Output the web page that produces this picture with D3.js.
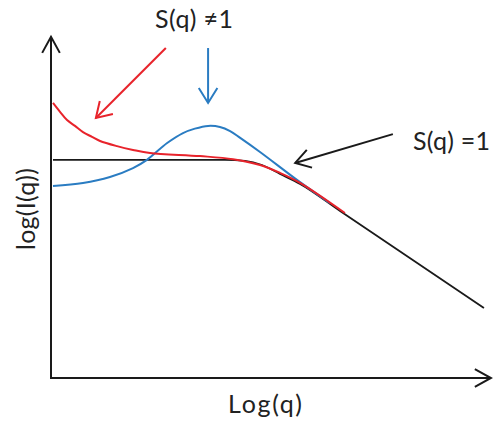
<!DOCTYPE html>
<html><head><meta charset="utf-8">
<script src="https://cdn.jsdelivr.net/npm/d3@7"></script>
<style>html,body{margin:0;padding:0;background:#fff;}</style>
</head><body>
<script>
// Data (abstract units: x and y in 0..100 of the axes)
const blackX = [0.45, 22.5, 39.5, 44.1, 47.95, 52.05, 56.6, 65.7, 98.4];
const blackY = [63.6, 63.6, 63.6, 63.3, 62.1, 59.5, 56.6, 48.7, 20.4];
const redX = [0.45, 2.05, 3.64, 5.45, 7.27, 9.32, 11.14, 15.0, 18.64, 22.5, 33.86, 41.36, 47.5, 52.05, 56.6, 66.8];
const redY = [80.2, 77.6, 75.2, 73.5, 71.7, 70.3, 69.1, 67.6, 66.5, 65.6, 64.7, 63.8, 62.1, 59.8, 56.9, 48.1];
const blueX = [0.45, 7.27, 13.4, 18.64, 21.8, 26.4, 30.0, 32.7, 35.7, 38.4, 40.7, 43.0, 47.5, 56.6, 63.4];
const blueY = [56.0, 56.85, 58.6, 61.2, 63.6, 68.5, 71.4, 72.7, 73.5, 73.2, 72.0, 70.0, 65.9, 57.1, 51.0];
// annotation arrows: [tailX, tailY, tipX, tipY]
const arrowRed = [26.1, 96.2, 10.2, 75.8];
const arrowBlue = [35.7, 96.2, 35.7, 80.2];
const arrowBlack = [77.7, 71.1, 55.5, 62.7];
const labels = ["S(q) \u22601", "S(q) =1", "Log(q)", "log(I(q))"];

const W = 493, H = 423;
const svg = d3.select("body").append("svg").attr("width", W).attr("height", H);
const x = d3.scaleLinear().domain([0, 100]).range([51, 491]);
const y = d3.scaleLinear().domain([0, 100]).range([378, 35]);

const RED = "#e8232b", BLUE = "#2a7cc2", BLK = "#1a1a1a";

function arrowHead(tx, ty, fx, fy, len, ang, color, w) {
  const a = Math.atan2(fy - ty, fx - tx);
  const p1 = [tx + len * Math.cos(a + ang), ty + len * Math.sin(a + ang)];
  const p2 = [tx + len * Math.cos(a - ang), ty + len * Math.sin(a - ang)];
  svg.append("path").attr("d", d3.line()([p1, [tx, ty], p2]))
    .attr("fill", "none").attr("stroke", color).attr("stroke-width", w)
    .attr("stroke-linejoin", "miter").attr("stroke-linecap", "butt");
}

// axes
svg.append("path").attr("d", d3.line()([[x(0), y(99.5)], [x(0), y(0)], [x(100), y(0)]]))
  .attr("fill", "none").attr("stroke", BLK).attr("stroke-width", 2);
arrowHead(x(0), y(99.5), x(0), y(0), 18.4, 0.5, BLK, 2);
arrowHead(x(100), y(0), x(0), y(0), 18.4, 0.5, BLK, 2);

function series(xs, ys, color, w, curve) {
  const line = d3.line().x(d => x(d[0])).y(d => y(d[1])).curve(curve);
  svg.append("path").attr("d", line(xs.map((v, i) => [v, ys[i]])))
    .attr("fill", "none").attr("stroke", color).attr("stroke-width", w);
}
series(blackX, blackY, BLK, 1.8, d3.curveMonotoneX);
series(blueX, blueY, BLUE, 2, d3.curveCatmullRom.alpha(0.5));
series(redX, redY, RED, 2, d3.curveCatmullRom.alpha(0.5));

function arrow(a, color) {
  const tx = x(a[2]), ty = y(a[3]), fx = x(a[0]), fy = y(a[1]);
  svg.append("line").attr("x1", fx).attr("y1", fy).attr("x2", tx).attr("y2", ty)
    .attr("stroke", color).attr("stroke-width", 2);
  arrowHead(tx, ty, fx, fy, 17.5, 0.56, color, 2);
}
arrow(arrowRed, RED);
arrow(arrowBlue, BLUE);
arrow(arrowBlack, BLK);

const font = "Lato, 'Open Sans', sans-serif";
function label(txt, tx, ty, rot, len) {
  svg.append("text")
    .attr("transform", `translate(${tx},${ty})` + (rot ? ` rotate(${rot})` : ""))
    .attr("x", -len / 2).attr("y", 0)
    .attr("textLength", len).attr("lengthAdjust", "spacing")
    .attr("font-family", font).attr("font-size", 25).attr("fill", "#222").text(txt);
}
label(labels[0], 194, 28, 0, 78);
label(labels[1], 451.5, 150, 0, 77);
label(labels[2], 265, 413, 0, 74);
label(labels[3], 35, 209, -90, 82);
</script>
</body></html>
